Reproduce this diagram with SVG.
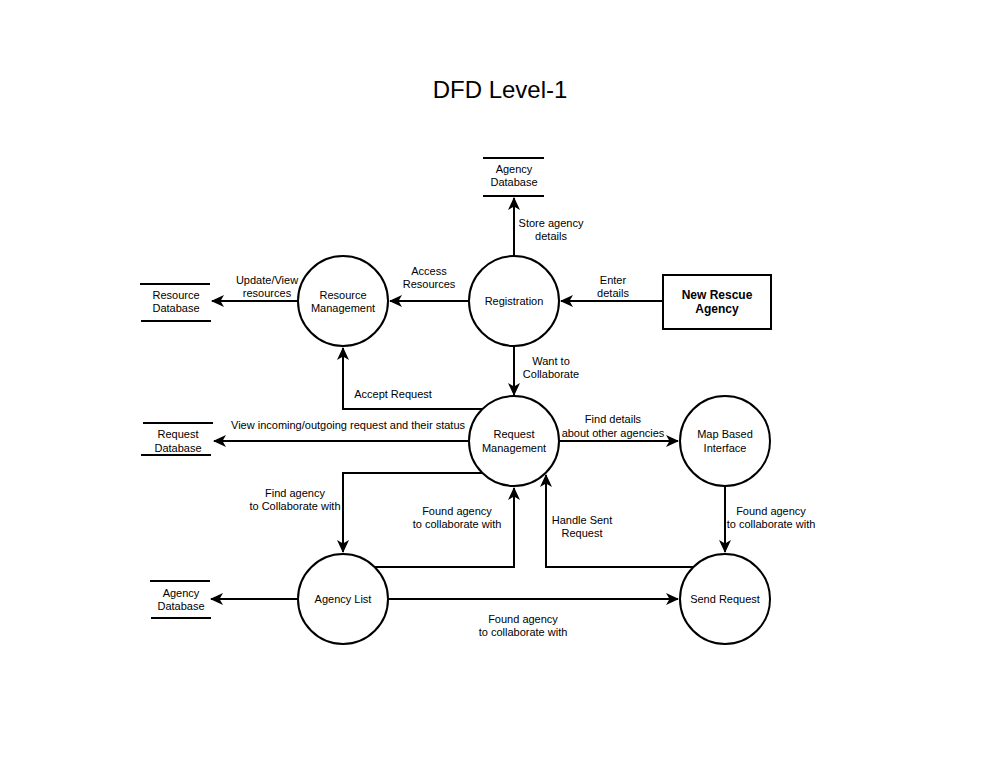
<svg xmlns="http://www.w3.org/2000/svg" width="999" height="774" viewBox="0 0 999 774">
<style>
.c{fill:#fff;stroke:#000;stroke-width:2}
.s{stroke:#000;stroke-width:2;fill:none}
.e{stroke:#000;stroke-width:2;fill:none;marker-end:url(#a)}
text{font-family:"Liberation Sans",Arial,sans-serif;font-size:11px;fill:#000;text-anchor:middle}
.t{font-size:24px}
.b{font-size:12px;font-weight:bold}
</style>
<defs>
<marker id="a" markerUnits="userSpaceOnUse" markerWidth="14" markerHeight="12" viewBox="0 0 14 12" refX="12" refY="6" orient="auto">
<path d="M0,0 L13,6 L0,12 L3.5,6 Z" fill="#000"/>
</marker>
</defs>
<rect width="999" height="774" fill="#fff"/>
<text class="t" x="500" y="98">DFD Level-1</text>

<g id="connectors">
<path class="e" d="M514,257 L514,198"/>
<path class="e" d="M469,301 L390,301"/>
<path class="e" d="M663,301 L561,301"/>
<path class="e" d="M298,301 L212,301"/>
<path class="e" d="M514,346 L514,395"/>
<path class="e" d="M482,409 L343,409 L343,348"/>
<path class="e" d="M469,441 L214,441"/>
<path class="e" d="M482,473 L343,473 L343,552"/>
<path class="e" d="M375,567 L514,567 L514,488"/>
<path class="e" d="M693,567 L546,567 L546,475"/>
<path class="e" d="M559,441 L678,441"/>
<path class="e" d="M725,486 L725,552"/>
<path class="e" d="M388,599 L678,599"/>
<path class="e" d="M298,599 L211,599"/>
<text x="551" y="227">Store agency</text><text x="551" y="240">details</text>
<text x="429" y="275">Access</text><text x="429" y="288">Resources</text>
<text x="613" y="284">Enter</text><text x="613" y="297">details</text>
<text x="267" y="284">Update/View</text><text x="267" y="297">resources</text>
<text x="551" y="365">Want to</text><text x="551" y="378">Collaborate</text>
<text x="393" y="398">Accept Request</text>
<text x="348" y="429">View incoming/outgoing request and their status</text>
<text x="613" y="423">Find details</text><text x="613" y="437">about other agencies</text>
<text x="295" y="497">Find agency</text><text x="295" y="510">to Collaborate with</text>
<text x="457" y="515">Found agency</text><text x="457" y="528">to collaborate with</text>
<text x="582" y="524">Handle Sent</text><text x="582" y="537">Request</text>
<text x="771" y="515">Found agency</text><text x="771" y="528">to collaborate with</text>
<text x="523" y="623">Found agency</text><text x="523" y="636">to collaborate with</text>
</g>

<g id="registration"><circle class="c" cx="514" cy="301" r="45"/><text x="514" y="305">Registration</text></g>
<g id="resource-management"><circle class="c" cx="343" cy="301" r="45"/><text x="343" y="299">Resource</text><text x="343" y="312">Management</text></g>
<g id="request-management"><circle class="c" cx="514" cy="441" r="45"/><text x="514" y="438">Request</text><text x="514" y="452">Management</text></g>
<g id="map-based-interface"><circle class="c" cx="725" cy="441" r="45"/><text x="725" y="438">Map Based</text><text x="725" y="452">Interface</text></g>
<g id="agency-list"><circle class="c" cx="343" cy="599" r="45"/><text x="343" y="603">Agency List</text></g>
<g id="send-request"><circle class="c" cx="725" cy="599" r="45"/><text x="725" y="603">Send Request</text></g>
<g id="new-rescue-agency"><rect class="c" x="663" y="275" width="108" height="54"/><text class="b" x="717" y="299">New Rescue</text><text class="b" x="717" y="313">Agency</text></g>

<g id="agency-database-top"><path class="s" d="M483,158 L544,158 M483,196 L544,196"/><text x="514" y="173">Agency</text><text x="514" y="186">Database</text></g>
<g id="resource-database"><path class="s" d="M140,284 L210,284 M141,321 L211,321"/><text x="176" y="299">Resource</text><text x="176" y="312">Database</text></g>
<g id="request-database"><path class="s" d="M143,423 L213,423 M141,455 L211,455"/><text x="178" y="438">Request</text><text x="178" y="452">Database</text></g>
<g id="agency-database-bottom"><path class="s" d="M150,581 L210,581 M151,618 L211,618"/><text x="181" y="597">Agency</text><text x="181" y="610">Database</text></g>
</svg>
